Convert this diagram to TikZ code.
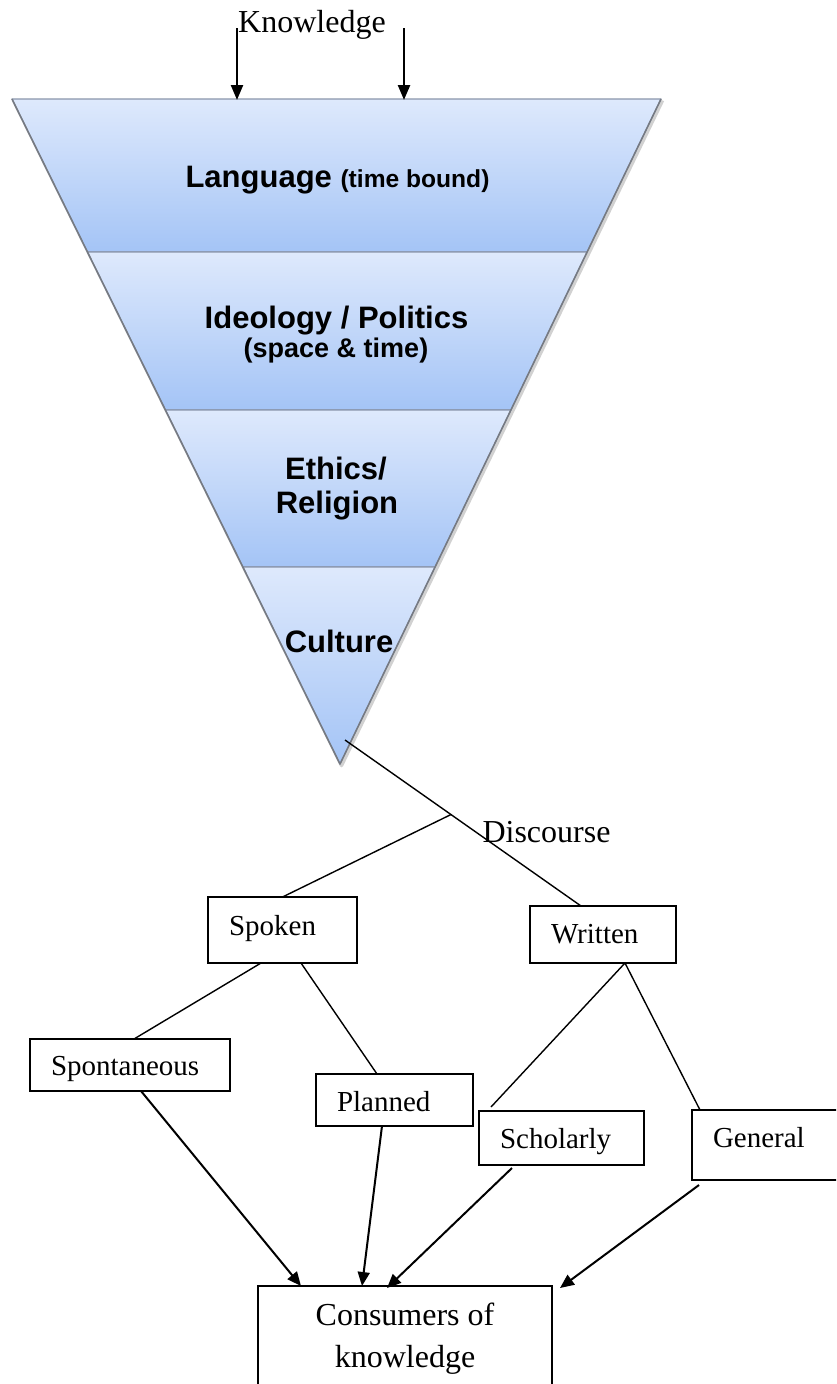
\documentclass[tikz,border=0pt]{standalone}
\usepackage{fontspec}
\setmainfont{Liberation Serif}
\newfontfamily\funnelfont{Liberation Sans}
\usetikzlibrary{arrows.meta,calc}

\definecolor{bandtop}{RGB}{222,233,252}
\definecolor{bandbot}{RGB}{164,196,246}
\definecolor{bandline}{RGB}{138,150,172}
\definecolor{edgegray}{RGB}{118,122,130}

\begin{document}
\begin{tikzpicture}[x=1pt,y=-1pt,
  band/.style={top color=bandtop, bottom color=bandbot, draw=bandline,
    line width=1.2pt, line join=round},
  ftext/.style={font={\funnelfont\bfseries\fontsize{31}{34}\selectfont},
    inner sep=0pt, anchor=base},
  stext/.style={font={\fontsize{32}{38}\selectfont}, inner sep=0pt, anchor=base},
  box/.style n args={3}{draw, line width=1.8pt, rectangle, inner xsep=21pt,
    inner ysep=0pt, outer sep=0pt, text height=#1, text depth=#2,
    text width=#3, align=left, anchor=base west,
    font={\fontsize{29}{34}\selectfont}},
  link/.style={line width=1.4pt},
  flow/.style={line width=2pt, -{Triangle[length=14pt,width=12pt]}},
  inflow/.style={line width=2.4pt, -{Triangle[length=15pt,width=12pt]}}
]
\useasboundingbox (0,0) rectangle (836,1384);
\clip (0,0) rectangle (836,1384);
\fill[white] (0,0) rectangle (836,1384);

% funnel corners
\coordinate (ftl) at (12,99);
\coordinate (ftr) at (661,99);
\coordinate (apex) at (340,764);

% soft shadow along the funnel sides
\draw[black, opacity=0.18, line width=3.5pt, line join=round]
  ([shift={(1.5,1.5)}]ftl) -- ([shift={(1.5,1.5)}]apex) -- ([shift={(1.5,1.5)}]ftr);

% funnel bands
\shade[band] (ftl) -- (ftr) -- (587,252) -- (87.5,252) -- cycle;
\shade[band] (87.5,252) -- (587,252) -- (511,410) -- (165.5,410) -- cycle;
\shade[band] (165.5,410) -- (511,410) -- (435,567) -- (243,567) -- cycle;
\shade[band] (243,567) -- (435,567) -- (apex) -- cycle;
\draw[edgegray, line width=1.5pt, line join=round] (ftl) -- (apex) -- (ftr);

% funnel labels
\node[ftext] (lang) at (337.5,187)
  {Language {\fontsize{24.6}{28}\selectfont(time bound)}};
\node[ftext] (ideo) at (336.5,328) {Ideology / Politics};
\node[ftext, font={\funnelfont\bfseries\fontsize{27}{30}\selectfont}] (ideosub)
  at (336,357) {(space \& time)};
\node[ftext] (eth) at (336,479) {Ethics/};
\node[ftext] (rel) at (337,513) {Religion};
\node[ftext] (cult) at (339,652) {Culture};

% knowledge entering the funnel
\node[stext] (know) at (312,32) {Knowledge};
\coordinate (k1s) at (237,28);
\coordinate (k1e) at (237,100);
\coordinate (k2s) at (404,28);
\coordinate (k2e) at (404,100);
\draw[inflow] (k1s) -- (k1e);
\draw[inflow] (k2s) -- (k2e);

% discourse tree
\node[box={38pt}{28pt}{107pt}] (spoken) at (208,935) {Spoken};
\node[box={37pt}{20pt}{104pt}] (written) at (530,943) {Written};
\node[box={36pt}{16pt}{158pt}] (spont) at (30,1075) {Spontaneous};
\node[box={37pt}{15pt}{115pt}] (planned) at (316,1111) {Planned};
\node[box={37pt}{17pt}{123pt}] (scholarly) at (479,1148) {Scholarly};
\node[box={37pt}{33pt}{118pt}] (general) at (692,1147) {General};
\node[draw, line width=1.8pt, minimum width=294pt, inner ysep=17pt,
  inner xsep=0pt, outer sep=0pt, anchor=north, align=center,
  font={\fontsize{32}{42}\selectfont}] (cons) at (405,1286)
  {Consumers of\\knowledge};

\node[stext] (disc) at (546.5,842) {Discourse};

\coordinate (fstart) at (345,740);
\coordinate (wtop) at ($(written.north west)+(51,0)$);
\coordinate (fork) at ($(fstart)!0.449!(wtop)$);
\draw[link] (fstart) -- (wtop);
\draw[link] (fork) -- (spoken.north);

\draw[link] ($(spoken.south west)+(53,0)$) -- ($(spont.north west)+(104,0)$);
\draw[link] ($(spoken.south west)+(93,0)$) -- ($(planned.north west)+(61,0)$);
\draw[link] ($(written.south west)+(95,0)$) -- ($(scholarly.north west)+(12,-4)$);
\draw[link] ($(written.south west)+(95,0)$) -- ($(general.north west)+(8,0)$);

\draw[flow] ($(spont.south west)+(111,0)$) -- ($(cons.north west)+(43,0)$);
\draw[flow] ($(planned.south west)+(66,0)$) -- ($(cons.north west)+(104,0)$);
\draw[flow] ($(scholarly.south west)+(33,3)$) -- ($(cons.north west)+(129,2)$);
\draw[flow] ($(general.south west)+(7,5)$) -- ($(cons.north east)+(8,2)$);
\end{tikzpicture}
\end{document}
